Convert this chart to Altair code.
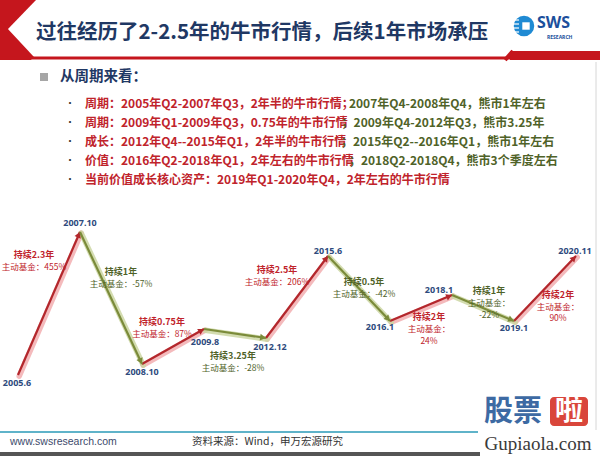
import math
import altair as alt
import pandas as pd

# ---------------- data ----------------
dates = ["2005.6", "2007.10", "2008.10", "2009.8", "2012.12",
         "2015.6", "2016.1", "2018.1", "2019.1", "2020.11"]
levels = [25, 168, 36, 71, 62, 144, 79, 105, 79, 144]          # 示意点位
durations = ["持续2.3年", "持续1年", "持续0.75年", "持续3.25年", "持续2.5年",
             "持续0.5年", "持续2年", "持续1年", "持续2年"]
fund_returns = ["455%", "-57%", "87%", "-28%", "206%", "-42%", "24%", "-22%", "90%"]

title_text = "过往经历了2-2.5年的牛市行情，后续1年市场承压"
section_text = "从周期来看："
bullet_red = [
    "周期：2005年Q2-2007年Q3，2年半的牛市行情；",
    "周期：2009年Q1-2009年Q3，0.75年的牛市行情",
    "成长：2012年Q4--2015年Q1，2年半的牛市行情",
    "价值：2016年Q2-2018年Q1，2年左右的牛市行情",
    "当前价值成长核心资产：2019年Q1-2020年Q4，2年左右的牛市行情",
]
bullet_green = [
    " 2007年Q4-2008年Q4，熊市1年左右",
    "；2009年Q4-2012年Q3，熊市3.25年",
    "；2015年Q2--2016年Q1，熊市1年左右",
    "；2018Q2-2018Q4，熊市3个季度左右",
    "",
]
site_text = "www.swsresearch.com"
source_text = "资料来源：Wind，申万宏源研究"

# ---------------- layout / style ----------------
W, H = 600, 456
CJK = "Noto Sans CJK SC"
NAVY = "#1f3864"
RED_TXT = "#c0232b"
GREEN_TXT = "#4f6228"
LINE_RED = "#b3272c"
LINE_GREEN = "#7b8b3a"
GLOW_RED = "#f2aeb0"
GLOW_GREEN = "#cbd6a2"
LABEL_NAVY = "#2e4a7d"
HEAD_RED = "#c5161d"

X_LEFT, X_RIGHT = 18, 576
n = len(dates)
STEP = (X_RIGHT - X_LEFT) / (n - 1)
Y_BASE = 400  # pixel row of level 0
XS = alt.Scale(domain=[-X_LEFT / STEP, (W - X_LEFT) / STEP], nice=False, zero=False)
YS = alt.Scale(domain=[Y_BASE - H, Y_BASE], nice=False, zero=False)

LABEL_OFF = [(-1, 8), (0, -9), (0, 8), (1, 13), (4, 9), (0, -5), (-10, 6), (-13, -5), (0, 7), (-1, -5)]
ANN_OFF = [(-15, -49), (10, -26), (-11, -25), (-2, 22), (-20, -27), (5, -7), (8, 9), (6, -17), (13, 6)]
WRAP = [False] * 6 + [True] * 3
DETAIL_GAP = 8

BULLET_Y = [104, 123, 142, 161, 180]
BULLET_X = 85
BULLET_SIZE = 12


def text_width(s, size):
    w = 0.0
    for ch in s:
        if ord(ch) > 0x2E80:
            w += 1.0
        elif ch.isdigit():
            w += 0.555
        elif ch == "Q":
            w += 0.69
        elif ch == "-":
            w += 0.34
        elif ch == ".":
            w += 0.28
        elif ch == " ":
            w += 0.224
        else:
            w += 0.6
    return w * size


# ---------------- derived tables ----------------
pts = pd.DataFrame({"date": dates, "level": levels})
pts["idx"] = range(n)
pts["lx"] = [i + LABEL_OFF[i][0] / STEP for i in range(n)]
pts["ly"] = [levels[i] - LABEL_OFF[i][1] for i in range(n)]

rows = []
for i in range(n - 1):
    y0, y1 = levels[i], levels[i + 1]
    dxp, dyp = STEP, (y1 - y0)
    ln = math.hypot(dxp, dyp)
    ang = math.degrees(math.atan2(dxp, dyp))
    back = 3.0
    rows.append(dict(
        x0=i, x1=i + 1, y0=y0, y1=y1,
        gx0=i + 1.2 / STEP, gx1=i + 1 + 1.2 / STEP, gy0=y0 - 1.2, gy1=y1 - 1.2,
        ax=i + 1 - (dxp / ln) * back / STEP, ay=y1 - (dyp / ln) * back,
        angle=ang,
        dir="up" if y1 > y0 else "down",
        dur=durations[i],
        det=("主动基金：\n" if WRAP[i] else "主动基金：") + fund_returns[i],
        tx=i + 0.5 + ANN_OFF[i][0] / STEP,
        ty=(y0 + y1) / 2 - ANN_OFF[i][1],
        dty=(y0 + y1) / 2 - ANN_OFF[i][1] - DETAIL_GAP,
    ))
seg = pd.DataFrame(rows)

dummy = pd.DataFrame({"k": [0]})


def d_rect(x, x2, y, y2, color, **kw):
    return alt.Chart(dummy).mark_rect(color=color, **kw).encode(
        x=alt.value(x), x2=alt.value(x2), y=alt.value(y), y2=alt.value(y2))


def d_rule(x, y, x2, y2, color, width):
    return alt.Chart(dummy).mark_rule(color=color, strokeWidth=width, strokeCap="butt").encode(
        x=alt.value(x), y=alt.value(y), x2=alt.value(x2), y2=alt.value(y2))


def d_text(text, x, y, size, color, weight="normal", align="left", font=CJK, baseline="middle"):
    return alt.Chart(dummy).mark_text(
        fontSize=size, color=color, fontWeight=weight, align=align, font=font, baseline=baseline
    ).encode(x=alt.value(x), y=alt.value(y), text=alt.value(text))


def thick_left_of(p, q, w, ext0, ext1):
    dx, dy = q[0] - p[0], q[1] - p[1]
    L = math.hypot(dx, dy)
    ux, uy = dx / L, dy / L
    nx, ny = -uy, ux
    if nx > 0:
        nx, ny = -nx, -ny
    a = (p[0] - ux * ext0 + nx * w / 2, p[1] - uy * ext0 + ny * w / 2)
    b = (q[0] + ux * ext1 + nx * w / 2, q[1] + uy * ext1 + ny * w / 2)
    return a, b


layers = []
# header chevron
a, b = thick_left_of((36, 0), (8, 29), 40, 12, 12)
layers.append(d_rule(a[0], a[1], b[0], b[1], HEAD_RED, 40))
a, b = thick_left_of((8, 29), (34, 57), 40, 12, 0)
layers.append(d_rule(a[0], a[1], b[0], b[1], HEAD_RED, 40))
layers.append(d_rect(0, 45, 60, 100, "white"))
layers.append(d_rect(0, 600, 56.5, 59.5, HEAD_RED))
layers.append(d_rect(510, 600, 51, 60, HEAD_RED))
layers.append(d_rule(505, 60, 513, 51, HEAD_RED, 4))

# title + logo
layers.append(d_text(title_text, 36, 33, 20.5, NAVY, weight="bold"))
layers.append(alt.Chart(dummy).mark_point(shape="circle", filled=True, color="#1f8ad3", size=420, opacity=1)
              .encode(x=alt.value(524), y=alt.value(26)))
layers.append(alt.Chart(dummy).mark_point(shape="square", filled=True, color="white", size=55, opacity=1)
              .encode(x=alt.value(526), y=alt.value(26)))
for yy in (20, 24, 28, 32):
    layers.append(d_rule(512, yy, 519, yy, "white", 1.2))
layers.append(d_text("SWS", 537, 23, 16, "#1c4f9c", weight="bold", font="Noto Sans"))
layers.append(d_text("RESEARCH", 547, 37, 5, "#1c4f9c", weight="bold", font="Noto Sans"))

# section header + bullets
layers.append(d_rect(40, 48, 73, 81, "#a6a6a6"))
layers.append(d_text(section_text, 60, 77, 14.5, NAVY, weight="bold"))
for k in range(len(bullet_red)):
    yk = BULLET_Y[k]
    layers.append(d_text("•", 70, yk, 10, "#333333", align="center"))
    layers.append(d_text(bullet_red[k], BULLET_X, yk, BULLET_SIZE, RED_TXT, weight="bold"))
    if bullet_green[k]:
        gx = BULLET_X + text_width(bullet_red[k], BULLET_SIZE) + 2
        layers.append(d_text(bullet_green[k], gx, yk, BULLET_SIZE, GREEN_TXT, weight="bold"))

# right border
layers.append(d_rule(596, 62, 596, 430, "#d6d6d6", 1))

# ---------------- chart layers ----------------
for dname, glow, col in (("up", GLOW_RED, LINE_RED), ("down", GLOW_GREEN, LINE_GREEN)):
    base = alt.Chart(seg).transform_filter(alt.datum.dir == dname)
    layers.append(base.mark_rule(color=glow, strokeWidth=5.5, opacity=0.85, strokeCap="round").encode(
        x=alt.X("gx0:Q", scale=XS, axis=None), y=alt.Y("gy0:Q", scale=YS, axis=None),
        x2="gx1:Q", y2="gy1:Q"))
for dname, glow, col in (("up", GLOW_RED, LINE_RED), ("down", GLOW_GREEN, LINE_GREEN)):
    base = alt.Chart(seg).transform_filter(alt.datum.dir == dname)
    layers.append(base.mark_rule(color=col, strokeWidth=2.2).encode(
        x=alt.X("x0:Q", scale=XS, axis=None), y=alt.Y("y0:Q", scale=YS, axis=None),
        x2="x1:Q", y2="y1:Q"))
    layers.append(base.mark_point(shape="triangle-up", filled=True, color=col, size=45, opacity=1).encode(
        x=alt.X("ax:Q", scale=XS, axis=None), y=alt.Y("ay:Q", scale=YS, axis=None),
        angle=alt.Angle("angle:Q", scale=None)))
    tcol = RED_TXT if dname == "up" else GREEN_TXT
    layers.append(base.mark_text(fontSize=9, fontWeight="bold", color=tcol, font=CJK,
                                 align="center", baseline="middle").encode(
        x=alt.X("tx:Q", scale=XS, axis=None), y=alt.Y("ty:Q", scale=YS, axis=None), text="dur:N"))
    layers.append(base.mark_text(fontSize=8.5, color=tcol, font=CJK, align="center",
                                 baseline="top", lineBreak="\n", lineHeight=11.5).encode(
        x=alt.X("tx:Q", scale=XS, axis=None), y=alt.Y("dty:Q", scale=YS, axis=None), text="det:N"))

layers.append(alt.Chart(pts).mark_text(fontSize=9, fontWeight="bold", color=LABEL_NAVY,
                                       font="Noto Sans", align="center", baseline="middle").encode(
    x=alt.X("lx:Q", scale=XS, axis=None), y=alt.Y("ly:Q", scale=YS, axis=None), text="date:N"))

# ---------------- footer ----------------
layers.append(d_rule(0, 432, 478, 432, "#5fb3c9", 2))
layers.append(d_rect(0, 480, 452, 456, "#555555"))
layers.append(d_text(site_text, 10, 442, 10.5, "#3d4a6b", font="Liberation Sans"))
layers.append(d_text(source_text, 192, 442, 10.5, "#333333"))

# watermark
layers.append(d_text("股票", 484, 412, 29, "#3d6aa3", weight="bold"))
layers.append(d_rect(550, 588, 397, 426, "#d9463b", cornerRadius=4))
layers.append(d_text("啦", 569, 412, 28, "white", weight="bold", align="center"))
layers.append(d_text("Gupiaola.com", 538, 444, 19, "#3a3a3a", align="center", font="Liberation Serif"))

chart = alt.layer(*layers).properties(
    width=W, height=H, padding=0, background="white",
    autosize=alt.AutoSizeParams(type="none"),
).configure_view(strokeWidth=0)

chart.save("out.html", embed_options={"renderer": "svg", "actions": False})
